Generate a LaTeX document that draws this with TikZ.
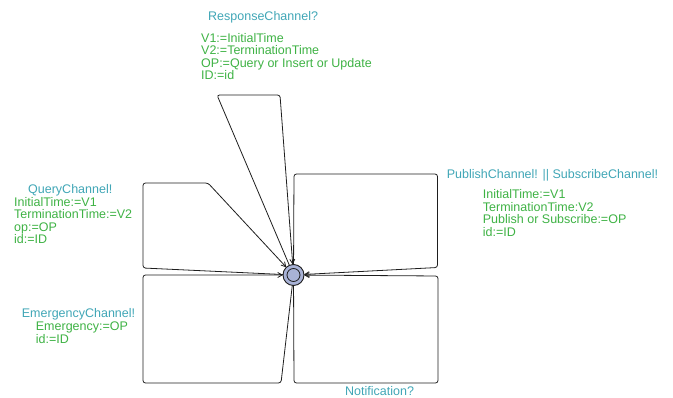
\documentclass[tikz,border=0pt]{standalone}
\usepackage{fontspec}
\setmainfont{Liberation Sans}
\usetikzlibrary{arrows.meta}
\definecolor{synccol}{RGB}{64,166,182}
\definecolor{assigncol}{RGB}{62,178,68}
\definecolor{locfill}{RGB}{168,178,214}
\definecolor{edgecol}{RGB}{30,30,30}
\tikzset{
  loc/.style={circle,draw=edgecol,line width=0.9pt,fill=locfill,minimum size=21pt,inner sep=0pt,outer sep=0pt},
  edge/.style={draw=edgecol,line width=0.8pt,rounded corners=2.5pt,-{Straight Barb[length=4.5pt,width=5pt]}},
  sync/.style={anchor=base west,inner sep=0pt,text=synccol,font=\fontsize{12.5}{12.5}\selectfont},
  assign/.style={anchor=base west,inner sep=0pt,text=assigncol,font=\fontsize{12.5}{12.5}\selectfont}
}
\begin{document}
\begin{tikzpicture}[x=1pt,y=-1pt]
\useasboundingbox (0,0) rectangle (673,398);
\node[loc] (L) at (293.5,275) {};
\draw[edgecol,line width=0.8pt] (L.center) circle[radius=6.5];
% nails
\coordinate (r1) at (217,95);
\coordinate (r2) at (280,95);
\coordinate (q1) at (143,268);
\coordinate (q2) at (143,183);
\coordinate (q3) at (208,183);
\coordinate (p1) at (294,174);
\coordinate (p2) at (437.5,174);
\coordinate (p3) at (437.5,267.5);
\coordinate (e1) at (281,383);
\coordinate (e2) at (143,383);
\coordinate (e3) at (143,275);
\coordinate (n1) at (294,383);
\coordinate (n2) at (438,383);
\coordinate (n3) at (438,276);
% edges
\draw[edge] (L) -- (r1) -- (r2) -- (L);
\draw[edge] (L) -- (q1) -- (q2) -- (q3) -- (L);
\draw[edge] (L) -- (p1) -- (p2) -- (p3) -- (L);
\draw[edge] (L) -- (e1) -- (e2) -- (e3) -- (L);
\draw[edge] (L) -- (n1) -- (n2) -- (n3) -- (L);
% labels
\node[sync] (rs) at (208,21) {ResponseChannel?};
\node[assign] (ra1) at (201,42.7) {V1:=InitialTime};
\node[assign] (ra2) at (201,55) {V2:=TerminationTime};
\node[assign] (ra3) at (201,67.3) {OP:=Query or Insert or Update};
\node[assign] (ra4) at (201,79.6) {ID:=id};
\node[sync] (qs) at (28,194) {QueryChannel!};
\node[assign] (qa1) at (14,206.7) {InitialTime:=V1};
\node[assign] (qa2) at (14,219) {TerminationTime:=V2};
\node[assign] (qa3) at (14,231.3) {op:=OP};
\node[assign] (qa4) at (14,243.6) {id:=ID};
\node[sync] (ps) at (446.7,179) {PublishChannel! || SubscribeChannel!};
\node[assign] (pa1) at (482.7,199) {InitialTime:=V1};
\node[assign] (pa2) at (482.7,211.5) {TerminationTime:V2};
\node[assign] (pa3) at (482.7,224) {Publish or Subscribe:=OP};
\node[assign] (pa4) at (482.7,236.5) {id:=ID};
\node[sync] (es) at (21.7,317.7) {EmergencyChannel!};
\node[assign] (ea1) at (35.7,331) {Emergency:=OP};
\node[assign] (ea2) at (35.7,343.3) {id:=ID};
\node[sync] (ns) at (345,396) {Notification?};
\end{tikzpicture}
\end{document}
